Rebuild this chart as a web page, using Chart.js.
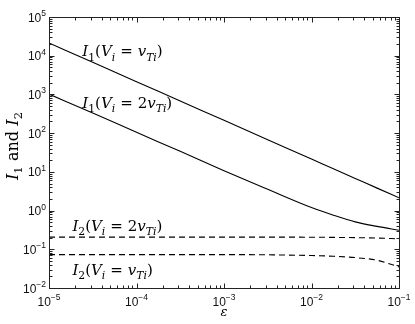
<!DOCTYPE html>
<html><head><meta charset="utf-8">
<script src="https://cdn.jsdelivr.net/npm/chart.js@4"></script>
<style>html,body{margin:0;padding:0;background:#fff}#wrap{width:415px;height:324px;position:relative}</style>
</head><body><div id="wrap"><canvas id="c" width="415" height="324"></canvas></div>
<script>
// ---- data ----
const epsilon   = [1e-5, 3.16e-5, 1e-4, 3.16e-4, 1e-3, 3.16e-3, 1e-2, 1.78e-2, 3.16e-2, 5.62e-2, 1e-1];
const I1_vTi    = [21400, 6760, 2140, 676, 214, 67.6, 21.4, 12.0, 6.76, 3.80, 2.14];
const I1_2vTi   = [1020, 331, 105, 33.9, 10.7, 3.55, 1.20, 0.76, 0.51, 0.39, 0.31];
const I2_2vTi   = [0.206, 0.206, 0.206, 0.206, 0.206, 0.206, 0.205, 0.203, 0.200, 0.195, 0.186];
const I2_vTi    = [0.073, 0.073, 0.073, 0.073, 0.073, 0.072, 0.069, 0.066, 0.061, 0.052, 0.035];
const xTickExp  = [-5, -4, -3, -2, -1];
const yTickExp  = [-2, -1, 0, 1, 2, 3, 4, 5];

const pts = ys => epsilon.map((x, i) => ({x: x, y: ys[i]}));

const SERIF = '"DejaVu Serif", "Liberation Serif", serif';
const SANS = '"Liberation Sans", Arial, sans-serif';

function segWidth(ctx, segs, size) {
  let w = 0;
  for (const s of segs) {
    const fs = s.sub ? size * 0.72 : size;
    ctx.font = (s.it ? 'italic ' : '') + fs + 'px ' + SERIF;
    w += ctx.measureText(s.t).width;
  }
  return w;
}
function drawMath(ctx, segs, x, y, size) {
  let cx = x;
  ctx.textBaseline = 'alphabetic';
  ctx.textAlign = 'left';
  for (const s of segs) {
    const fs = s.sub ? size * 0.72 : size;
    ctx.font = (s.it ? 'italic ' : '') + fs + 'px ' + SERIF;
    ctx.fillText(s.t, cx, y + (s.sub ? size * 0.28 : 0));
    cx += ctx.measureText(s.t).width;
  }
}
const lbl = (idx, val2) => [
  {t: 'I', it: true}, {t: String(idx), sub: true}, {t: '('}, {t: 'V', it: true}, {t: 'i', it: true, sub: true},
  {t: '\u2004=\u2004'}, {t: (val2 ? '2' : '')}, {t: 'v', it: true}, {t: 'Ti', it: true, sub: true}, {t: ')'}
];

const annotations = [
  {segs: lbl(1, false), ex: 2.4e-5, ey: 1.3e4},
  {segs: lbl(1, true),  ex: 2.4e-5, ey: 6.1e2},
  {segs: lbl(2, true),  ex: 1.85e-5, ey: 0.40},
  {segs: lbl(2, false), ex: 1.85e-5, ey: 0.030}
];

const decor = {
  id: 'decor',
  afterDraw(chart) {
    const ctx = chart.ctx, xs = chart.scales.x, ys = chart.scales.y, a = chart.chartArea;
    ctx.save();
    ctx.strokeStyle = '#222';
    ctx.lineWidth = 1;
    const L = Math.round(a.left) + 0.5, R = Math.round(a.right) + 0.5, T = Math.round(a.top) + 0.5, B = Math.round(a.bottom) + 0.5;
    ctx.strokeRect(L, T, R - L, B - T);
    ctx.beginPath();
    for (let d = -5; d <= -1; d++) {
      for (let m = 1; m <= 9; m++) {
        const v = m * Math.pow(10, d);
        if (v > 0.1 * 1.0001) break;
        const px = Math.round(xs.getPixelForValue(v)) + 0.5;
        const len = m === 1 ? 5 : 3;
        ctx.moveTo(px, B); ctx.lineTo(px, B - len);
        ctx.moveTo(px, T); ctx.lineTo(px, T + len);
      }
    }
    for (let d = -2; d <= 5; d++) {
      for (let m = 1; m <= 9; m++) {
        const v = m * Math.pow(10, d);
        if (v > 1e5 * 1.0001) break;
        const py = Math.round(ys.getPixelForValue(v)) + 0.5;
        const len = m === 1 ? 5 : 3;
        ctx.moveTo(L, py); ctx.lineTo(L + len, py);
        ctx.moveTo(R, py); ctx.lineTo(R - len, py);
      }
    }
    ctx.stroke();

    // tick labels
    ctx.fillStyle = '#111';
    const baseFs = 12, expFs = 8.5;
    for (const e of xTickExp) {
      const px = xs.getPixelForValue(Math.pow(10, e));
      ctx.font = baseFs + 'px ' + SANS;
      const w1 = ctx.measureText('10').width;
      ctx.font = expFs + 'px ' + SANS;
      const es = '\u2212' + Math.abs(e);
      const w2 = ctx.measureText(es).width;
      const x0 = px - (w1 + w2) / 2;
      ctx.textAlign = 'left'; ctx.textBaseline = 'alphabetic';
      ctx.font = baseFs + 'px ' + SANS;
      ctx.fillText('10', x0, 306);
      ctx.font = expFs + 'px ' + SANS;
      ctx.fillText(es, x0 + w1, 300);
    }
    for (const e of yTickExp) {
      const py = ys.getPixelForValue(Math.pow(10, e));
      ctx.font = expFs + 'px ' + SANS;
      const es = (e < 0 ? '\u2212' : '') + Math.abs(e);
      const w2 = ctx.measureText(es).width;
      ctx.font = baseFs + 'px ' + SANS;
      const w1 = ctx.measureText('10').width;
      const xr = a.left - 3;
      ctx.textAlign = 'left'; ctx.textBaseline = 'alphabetic';
      ctx.fillText('10', xr - w2 - w1, py + 4.5);
      ctx.font = expFs + 'px ' + SANS;
      ctx.fillText(es, xr - w2, py - 1);
    }

    // annotations
    ctx.fillStyle = '#000';
    for (const an of annotations) {
      const px = xs.getPixelForValue(an.ex), py = ys.getPixelForValue(an.ey);
      drawMath(ctx, an.segs, px, py + 5, 15);
    }

    // x title
    ctx.font = 'italic 13px ' + SERIF;
    ctx.textAlign = 'center'; ctx.textBaseline = 'middle';
    ctx.fillText('\u03B5', (a.left + a.right) / 2, 313);

    // y title
    const ysegs = [{t: 'I', it: true}, {t: '1', sub: true}, {t: '\u2004and\u2004'}, {t: 'I', it: true}, {t: '2', sub: true}];
    ctx.translate(18, 146);
    ctx.rotate(-Math.PI / 2);
    const w = segWidth(ctx, ysegs, 16);
    drawMath(ctx, ysegs, -w / 2, 0, 16);
    ctx.restore();
  }
};

new Chart(document.getElementById('c'), {
  type: 'scatter',
  data: {
    datasets: [
      {label: 'I1 (Vi = vTi)', data: pts(I1_vTi), showLine: true, borderColor: '#000', borderWidth: 1.1, pointRadius: 0, cubicInterpolationMode: 'monotone'},
      {label: 'I1 (Vi = 2vTi)', data: pts(I1_2vTi), showLine: true, borderColor: '#000', borderWidth: 1.1, pointRadius: 0, cubicInterpolationMode: 'monotone'},
      {label: 'I2 (Vi = 2vTi)', data: pts(I2_2vTi), showLine: true, borderColor: '#000', borderWidth: 1.1, borderDash: [6, 4], pointRadius: 0, cubicInterpolationMode: 'monotone'},
      {label: 'I2 (Vi = vTi)', data: pts(I2_vTi), showLine: true, borderColor: '#000', borderWidth: 1.1, borderDash: [6, 4], pointRadius: 0, cubicInterpolationMode: 'monotone'}
    ]
  },
  options: {
    responsive: false,
    devicePixelRatio: 1,
    animation: false,
    layout: {padding: {left: 49, top: 17, right: 16, bottom: 36}},
    plugins: {legend: {display: false}, tooltip: {enabled: false}},
    scales: {
      x: {type: 'logarithmic', min: 1e-5, max: 1e-1, display: false},
      y: {type: 'logarithmic', min: 1e-2, max: 1e5, display: false}
    }
  },
  plugins: [decor]
});
</script>
</body></html>
